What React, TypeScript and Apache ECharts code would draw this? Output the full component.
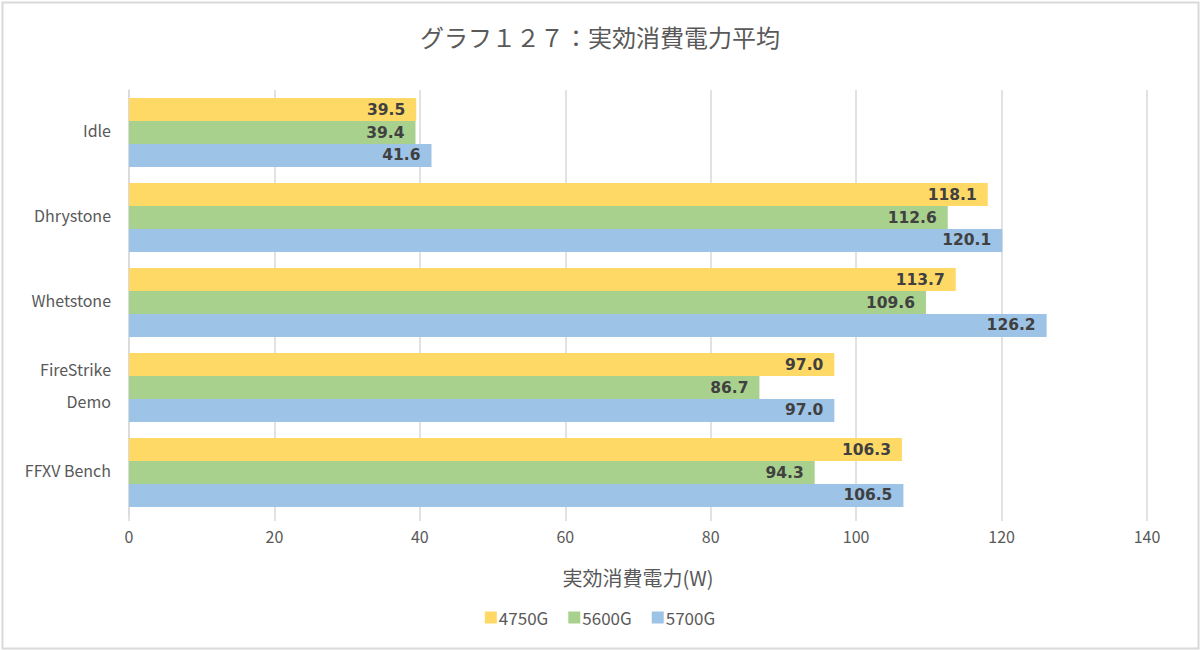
import React, { useEffect, useRef } from "react";
import * as echarts from "echarts";

const categories = ["Idle", "Dhrystone", "Whetstone", "FireStrike\nDemo", "FFXV Bench"];
const seriesNames = ["4750G", "5600G", "5700G"];
const v4750G = [39.5, 118.1, 113.7, 97.0, 106.3];
const v5600G = [39.4, 112.6, 109.6, 86.7, 94.3];
const v5700G = [41.6, 120.1, 126.2, 97.0, 106.5];
const colors = ["#FFD966", "#A9D18E", "#9DC3E6"];
const xTicks = [0, 20, 40, 60, 80, 100, 120, 140];

export default function App() {
  const ref = useRef<HTMLDivElement>(null);
  useEffect(() => {
    if (!ref.current) return;
    const chart = echarts.init(ref.current, undefined, { renderer: "svg" });
    const font = "'Noto Sans CJK JP', 'Open Sans', sans-serif";
    const values = [v4750G, v5600G, v5700G];
    chart.setOption({
      animation: false,
      backgroundColor: "#ffffff",
      title: {
        text: "グラフ１２７：実効消費電力平均",
        left: "center",
        top: 19,
        textStyle: { fontSize: 24, fontWeight: "normal", color: "#595959", fontFamily: font },
      },
      legend: {
        data: seriesNames,
        bottom: 19,
        left: "center",
        itemWidth: 12,
        itemHeight: 12,
        itemGap: 20,
        icon: "rect",
        textStyle: { fontSize: 17, color: "#595959", fontFamily: font, padding: [0, 0, 0, -3] },
      },
      grid: { left: 129, right: 53, top: 90, bottom: 135, containLabel: false },
      xAxis: {
        type: "value",
        min: xTicks[0],
        max: xTicks[xTicks.length - 1],
        interval: 20,
        name: "実効消費電力(W)",
        nameLocation: "middle",
        nameGap: 52,
        nameTextStyle: { fontSize: 20, color: "#595959", fontFamily: font },
        axisLine: { show: false },
        axisTick: { show: true, length: 6, lineStyle: { color: "#d9d9d9", width: 1.5 } },
        axisLabel: { fontSize: 16, color: "#595959", fontFamily: font, margin: 13 },
        splitLine: { show: true, lineStyle: { color: "#d9d9d9", width: 1.5 } },
      },
      yAxis: {
        type: "category",
        data: categories,
        inverse: true,
        axisLine: { show: true, lineStyle: { color: "#d9d9d9", width: 1.5 } },
        axisTick: { show: false },
        axisLabel: {
          margin: 18,
          align: "right",
          formatter: (v: string) =>
            v
              .split("\n")
              .map((s) => "{a|" + s + "}")
              .join("\n"),
          rich: {
            a: {
              fontSize: 16,
              color: "#595959",
              fontFamily: font,
              lineHeight: 32,
              padding: [0, 0, 6, 0],
            },
          },
        },
      },
      series: seriesNames.map((name, i) => ({
        name,
        type: "bar",
        data: values[i],
        barGap: "0%",
        barCategoryGap: "19%",
        itemStyle: { color: colors[i] },
        label: {
          show: true,
          position: "insideRight",
          distance: 11,
          formatter: (p: any) => Number(p.value).toFixed(1),
          fontSize: 15.5,
          fontWeight: "bold",
          color: "#404040",
          fontFamily: "'DejaVu Sans', sans-serif",
        },
      })),
      graphic: [
        {
          type: "rect",
          left: 0,
          top: 0,
          shape: { x: 1, y: 1, width: 1196, height: 646 },
          style: { fill: "none", stroke: "#d9d9d9", lineWidth: 2 },
          silent: true,
        },
      ],
    });
    return () => chart.dispose();
  }, []);
  return (
    <div
      ref={ref}
      style={{ position: "fixed", left: 0, top: 0, width: 1200, height: 650 }}
    />
  );
}
